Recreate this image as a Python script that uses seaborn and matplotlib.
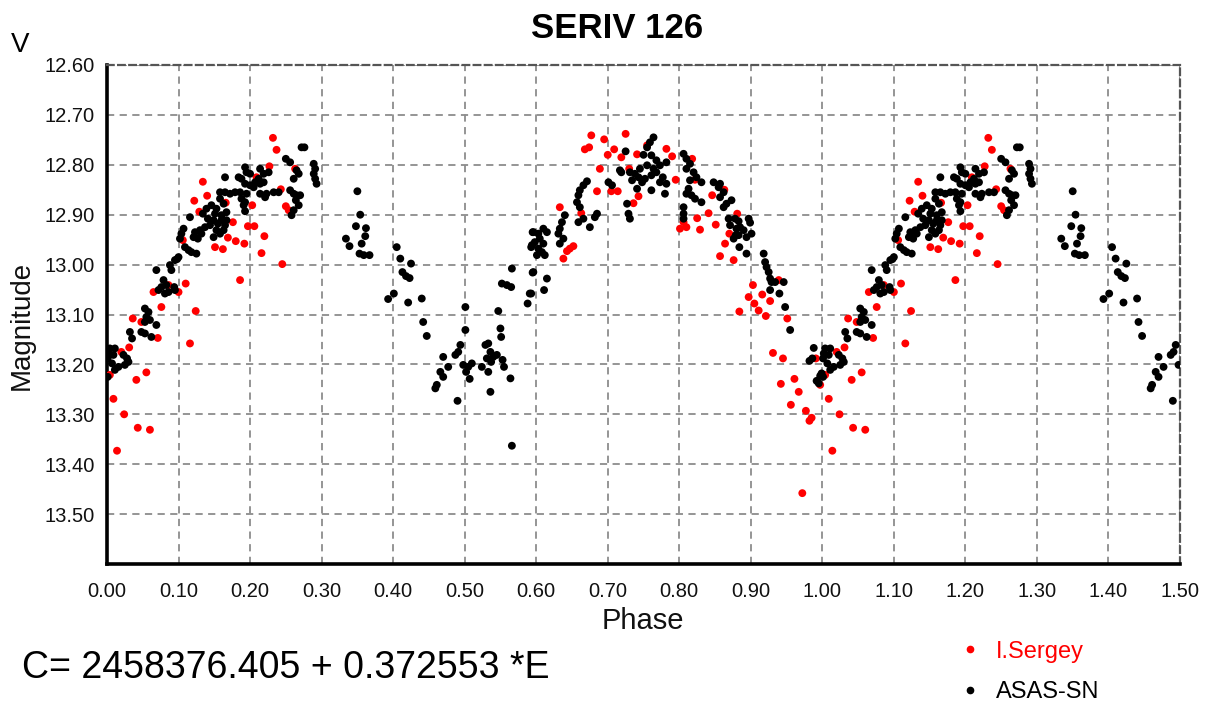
import numpy as np
import pandas as pd
import matplotlib
matplotlib.use("Agg")
import matplotlib.pyplot as plt
import seaborn as sns
from matplotlib.ticker import FixedLocator, MultipleLocator, FormatStrFormatter
from matplotlib.lines import Line2D

# ---------------- data (phase 0..1) ----------------
sergey_phase = [
    0.232, 0.237, 0.134, 0.140, 0.122, 0.129, 0.243, 0.203, 0.263, 0.250, 0.254, 0.176,
    0.197, 0.206, 0.220, 0.169, 0.180, 0.192, 0.151, 0.162, 0.216, 0.245, 0.186, 0.106,
    0.110, 0.100, 0.065, 0.086, 0.076, 0.124, 0.036, 0.048, 0.071, 0.116, 0.031, 0.020,
    0.004, 0.055, 0.041, 0.009, 0.024, 0.043, 0.060, 0.014, 0.209, 0.227, 0.166,
    0.677, 0.725, 0.668, 0.674, 0.695, 0.709, 0.700, 0.719, 0.741, 0.755, 0.782, 0.790,
    0.689, 0.730, 0.818, 0.795, 0.685, 0.705, 0.714, 0.743, 0.736, 0.822, 0.633, 0.663,
    0.863, 0.846, 0.841, 0.825, 0.806, 0.801, 0.810, 0.829, 0.851, 0.870, 0.652, 0.647,
    0.643, 0.638, 0.864, 0.857, 0.876, 0.884, 0.881, 0.903, 0.897, 0.905, 0.916, 0.927,
    0.911, 0.939, 0.921, 0.951, 0.931, 0.945, 0.961, 0.942, 0.967, 0.956, 0.977, 0.985,
    0.982, 0.972, 0.991, 0.997,
]
sergey_mag = [
    12.746, 12.770, 12.834, 12.862, 12.872, 12.894, 12.849, 12.881, 12.808, 12.883, 12.891, 12.915,
    12.923, 12.923, 12.943, 12.946, 12.953, 12.958, 12.965, 12.969, 12.977, 12.999, 13.031, 12.951,
    13.038, 13.055, 13.055, 13.041, 13.085, 13.093, 13.108, 13.115, 13.147, 13.158, 13.166, 13.175,
    13.221, 13.216, 13.231, 13.269, 13.300, 13.327, 13.331, 13.373, 12.825, 12.803, 12.876,
    12.741, 12.738, 12.769, 12.765, 12.749, 12.769, 12.780, 12.785, 12.779, 12.761, 12.768, 12.783,
    12.808, 12.808, 12.788, 12.830, 12.853, 12.853, 12.853, 12.863, 12.877, 12.830, 12.885, 12.897,
    12.850, 12.861, 12.897, 12.907, 12.915, 12.928, 12.925, 12.930, 12.920, 12.938, 12.963, 12.968,
    12.973, 12.988, 12.958, 12.983, 12.991, 13.094, 12.898, 13.041, 13.065, 13.078, 13.060, 13.073,
    13.092, 13.031, 13.103, 13.108, 13.177, 13.188, 13.229, 13.239, 13.255, 13.281, 13.293, 13.307,
    13.313, 13.458, 13.188, 13.241,
]

asas_phase = [
    0.004, 0.011, 0.002, 0.009, 0.023, 0.028, 0.030, 0.007, 0.016, 0.011, 0.025, 0.001, 0.001,
    0.032, 0.035, 0.053, 0.058, 0.055, 0.060, 0.053, 0.069, 0.048, 0.053, 0.062,
    0.079, 0.083, 0.076, 0.072, 0.086, 0.081, 0.094, 0.095, 0.069, 0.088, 0.090, 0.098,
    0.100, 0.095, 0.107, 0.104, 0.102, 0.109, 0.114, 0.118, 0.125, 0.116, 0.121, 0.123,
    0.127, 0.130, 0.132, 0.137, 0.134, 0.139, 0.141, 0.144, 0.146, 0.149, 0.149, 0.151,
    0.153, 0.153, 0.155, 0.158, 0.158, 0.160, 0.160, 0.163, 0.163, 0.165, 0.167, 0.167,
    0.158, 0.165, 0.165, 0.172, 0.179, 0.186, 0.195, 0.188, 0.193, 0.191, 0.193, 0.184,
    0.188, 0.193, 0.193, 0.195, 0.200, 0.200, 0.205, 0.207, 0.212, 0.214, 0.214, 0.219,
    0.219, 0.226, 0.214, 0.223, 0.221, 0.233, 0.240, 0.250, 0.256, 0.265, 0.268, 0.261,
    0.272, 0.276, 0.289, 0.291, 0.289, 0.291, 0.293, 0.256, 0.261, 0.265, 0.270, 0.264,
    0.268, 0.261, 0.258,
    0.350, 0.354, 0.348, 0.362, 0.361, 0.334, 0.339, 0.356, 0.353, 0.359, 0.367,
    0.405, 0.410, 0.425, 0.413, 0.418, 0.423, 0.401, 0.393, 0.421, 0.440, 0.442, 0.447,
    0.470, 0.477, 0.466, 0.470, 0.461, 0.459, 0.490, 0.487, 0.491, 0.494, 0.501, 0.501,
    0.498, 0.505, 0.502, 0.507, 0.510, 0.524, 0.529, 0.533, 0.536, 0.540, 0.537, 0.531,
    0.545, 0.553, 0.555, 0.536, 0.533, 0.564, 0.547, 0.550, 0.551, 0.566, 0.552, 0.559,
    0.565, 0.595, 0.593, 0.588, 0.593, 0.595, 0.566,
    0.596, 0.603, 0.610, 0.615, 0.605, 0.598, 0.610, 0.603, 0.608, 0.601, 0.612, 0.594,
    0.596, 0.615, 0.611, 0.591,
    0.671, 0.666, 0.661, 0.659, 0.657, 0.661, 0.666, 0.659, 0.640, 0.636, 0.633, 0.631,
    0.638, 0.633, 0.685, 0.682, 0.675, 0.701, 0.706, 0.727, 0.729, 0.731,
    0.764, 0.759, 0.755, 0.725, 0.750, 0.761, 0.768, 0.782, 0.773, 0.764, 0.755, 0.745,
    0.738, 0.743, 0.752, 0.761, 0.768, 0.777, 0.782, 0.773, 0.761, 0.748, 0.741, 0.734,
    0.717, 0.719, 0.731, 0.780, 0.806, 0.810, 0.815, 0.810, 0.820, 0.824, 0.831, 0.815,
    0.813, 0.817, 0.822, 0.831, 0.810, 0.806, 0.806, 0.806, 0.848, 0.855, 0.862, 0.857,
    0.866, 0.862, 0.873, 0.869, 0.871, 0.879,
    0.857, 0.878, 0.883, 0.897, 0.899, 0.885, 0.890, 0.883, 0.876, 0.901, 0.894, 0.880,
    0.884, 0.894, 0.918, 0.920, 0.922, 0.925, 0.927, 0.929, 0.934, 0.946, 0.927, 0.940,
    0.948, 0.955,
    0.988, 0.986, 0.982, 0.997, 0.992, 0.995, 0.999,
]
asas_mag = [
    13.168, 13.168, 13.178, 13.181, 13.181, 13.188, 13.195, 13.198, 13.205, 13.211, 13.201, 13.188, 13.225,
    13.135, 13.148, 13.088, 13.095, 13.105, 13.111, 13.115, 13.121, 13.135, 13.138, 13.145,
    13.031, 13.041, 13.045, 13.051, 13.055, 13.058, 13.045, 13.051, 13.011, 13.001, 13.011, 12.989,
    12.985, 12.991, 12.928, 12.938, 12.948, 12.965, 12.971, 12.975, 12.978, 12.905, 12.945, 12.935,
    12.948, 12.931, 12.938, 12.925, 12.898, 12.888, 12.908, 12.921, 12.881, 12.911, 12.945, 12.898,
    12.888, 12.931, 12.918, 12.868, 12.938, 12.901, 12.911, 12.878, 12.931, 12.921, 12.895, 12.911,
    12.855, 12.855, 12.825, 12.858, 12.855, 12.855, 12.858, 12.868, 12.875, 12.881, 12.893, 12.825,
    12.828, 12.838, 12.805, 12.815, 12.818, 12.841, 12.845, 12.835, 12.828, 12.808, 12.838, 12.818,
    12.835, 12.815, 12.858, 12.858, 12.865, 12.855, 12.855, 12.788, 12.795, 12.811, 12.818, 12.828,
    12.765, 12.765, 12.798, 12.808, 12.818, 12.828, 12.838, 12.851, 12.858, 12.861, 12.861, 12.871,
    12.881, 12.891, 12.901,
    12.853, 12.900, 12.923, 12.927, 12.943, 12.948, 12.963, 12.958, 12.978, 12.981, 12.981,
    12.965, 12.988, 12.998, 13.015, 13.023, 13.027, 13.058, 13.069, 13.076, 13.068, 13.115, 13.143,
    13.185, 13.205, 13.215, 13.225, 13.241, 13.248, 13.273, 13.181, 13.175, 13.161, 13.085, 13.131,
    13.201, 13.205, 13.215, 13.229, 13.198, 13.205, 13.161, 13.158, 13.175, 13.185, 13.195, 13.188,
    13.181, 13.191, 13.205, 13.255, 13.215, 13.228, 13.093, 13.128, 13.145, 13.008, 13.038, 13.041,
    13.045, 13.016, 13.058, 13.078, 12.965, 12.935, 13.363,
    12.935, 12.938, 12.928, 12.935, 12.948, 12.955, 12.958, 12.968, 12.975, 12.981, 12.981, 12.961,
    13.015, 13.028, 13.051, 13.058,
    12.833, 12.841, 12.851, 12.861, 12.875, 12.885, 12.908, 12.915, 12.901, 12.915, 12.928, 12.938,
    12.948, 12.958, 12.898, 12.905, 12.925, 12.835, 12.841, 12.878, 12.898, 12.908,
    12.745, 12.755, 12.765, 12.773, 12.780, 12.781, 12.791, 12.795, 12.801, 12.808, 12.801, 12.808,
    12.818, 12.825, 12.828, 12.821, 12.815, 12.825, 12.838, 12.835, 12.851, 12.835, 12.848, 12.831,
    12.811, 12.815, 12.815, 12.858, 12.778, 12.788, 12.798, 12.808, 12.815, 12.825, 12.835, 12.831,
    12.848, 12.861, 12.868, 12.875, 12.858, 12.885, 12.898, 12.908, 12.835, 12.845, 12.855, 12.865,
    12.878, 12.885, 12.871, 12.908, 12.921, 12.941,
    12.838, 12.908, 12.913, 12.908, 12.916, 12.925, 12.931, 12.941, 12.948, 12.938, 12.945, 12.928,
    12.965, 12.978, 12.978, 12.995, 13.005, 13.015, 13.028, 13.035, 13.035, 13.035, 13.051, 13.058,
    13.085, 13.131,
    13.167, 13.188, 13.193, 13.223, 13.233, 13.238, 13.218,
]

series_names = ["I.Sergey", "ASAS-SN"]
series_colors = ["#ff0000", "#000000"]
x_ticks = [0.0, 0.1, 0.2, 0.3, 0.4, 0.5, 0.6, 0.7, 0.8, 0.9, 1.0, 1.1, 1.2, 1.3, 1.4, 1.5]
y_ticks = [12.6, 12.7, 12.8, 12.9, 13.0, 13.1, 13.2, 13.3, 13.4, 13.5]
title = "SERIV 126"
ephemeris = "C= 2458376.405 + 0.372553 *E"

# ---------------- build table (fold repeated up to phase 1.5) ----------------
d1 = pd.DataFrame({"phase": sergey_phase, "mag": sergey_mag, "source": series_names[0]})
d2 = pd.DataFrame({"phase": asas_phase, "mag": asas_mag, "source": series_names[1]})
parts = []
for d in (d1, d2):
    ext = d[d["phase"] < 0.5].copy()
    ext["phase"] = ext["phase"] + 1.0
    parts.append(pd.concat([d, ext]))
df = pd.concat(parts, ignore_index=True)

# ---------------- figure ----------------
sns.set_style("white")
plt.rcParams["font.family"] = ["Liberation Sans", "DejaVu Sans"]
plt.rcParams["text.color"] = "black"

W, H = 1206, 710
fig = plt.figure(figsize=(W / 100, H / 100), dpi=100)
ax = fig.add_axes([107 / W, 1 - 564 / H, (1180 - 107) / W, (564 - 65) / H])

sns.scatterplot(data=df, x="phase", y="mag", hue="source", hue_order=series_names,
                palette=dict(zip(series_names, series_colors)), s=32, linewidth=0,
                marker="o", legend=False, ax=ax, zorder=3)

ax.set_xlim(0, 1.5)
ax.set_ylim(13.6, 12.6)
ax.xaxis.set_major_locator(FixedLocator(x_ticks))
ax.xaxis.set_minor_locator(MultipleLocator(0.025))
ax.yaxis.set_major_locator(FixedLocator(y_ticks))
ax.yaxis.set_minor_locator(MultipleLocator(0.025))
ax.xaxis.set_major_formatter(FormatStrFormatter("%.2f"))
ax.yaxis.set_major_formatter(FormatStrFormatter("%.2f"))
ax.set_xlabel("")
ax.set_ylabel("")

ax.grid(True, which="major", linestyle=(0, (4, 3)), color="#8c8c8c", linewidth=1.3, zorder=0)
ax.set_axisbelow(True)

for side in ("left", "bottom"):
    ax.spines[side].set_linewidth(2.6)
    ax.spines[side].set_color("black")
for side in ("top", "right"):
    ax.spines[side].set_linestyle((0, (3, 2)))
    ax.spines[side].set_color("#555555")
    ax.spines[side].set_linewidth(1.6)

ax.tick_params(axis="y", which="major", direction="inout", length=10, width=1,
               color="#555555", labelsize=14.5, labelcolor="#111111", pad=4)
ax.tick_params(axis="y", which="minor", direction="in", length=3, width=0.8, color="#777777")
ax.tick_params(axis="x", which="major", direction="out", length=7, width=1,
               color="#555555", labelsize=14.5, labelcolor="#111111", pad=6)
ax.tick_params(axis="x", which="minor", direction="out", length=3.5, width=0.8, color="#777777")

# ---------------- texts ----------------
fig.text(617 / W, 1 - 28 / H, title, ha="center", va="center", fontsize=25,
         fontweight="bold", color="black")
fig.text(20 / W, 1 - 45 / H, "V", ha="center", va="center", fontsize=20, color="black")
fig.text(22 / W, 1 - 325 / H, "Magnitude", ha="center", va="center", rotation=90,
         fontsize=20, color="#111111")
fig.text(643 / W, 1 - 621 / H, "Phase", ha="center", va="center", fontsize=21, color="#111111")
fig.text(22 / W, 1 - 668 / H, ephemeris, ha="left", va="center", fontsize=27, color="black")

handles = [Line2D([], [], linestyle="none", marker="o", markersize=4.5,
                  markerfacecolor=c, markeredgecolor=c) for c in series_colors]
leg = fig.legend(handles, series_names, loc="center left",
                 bbox_to_anchor=(937 / W, 1 - 672 / H), frameon=False, fontsize=17,
                 labelspacing=0.8, handlelength=1.0, handletextpad=0.6)
for txt, c in zip(leg.get_texts(), series_colors):
    txt.set_color(c)

fig.savefig("out.png", dpi=100)
